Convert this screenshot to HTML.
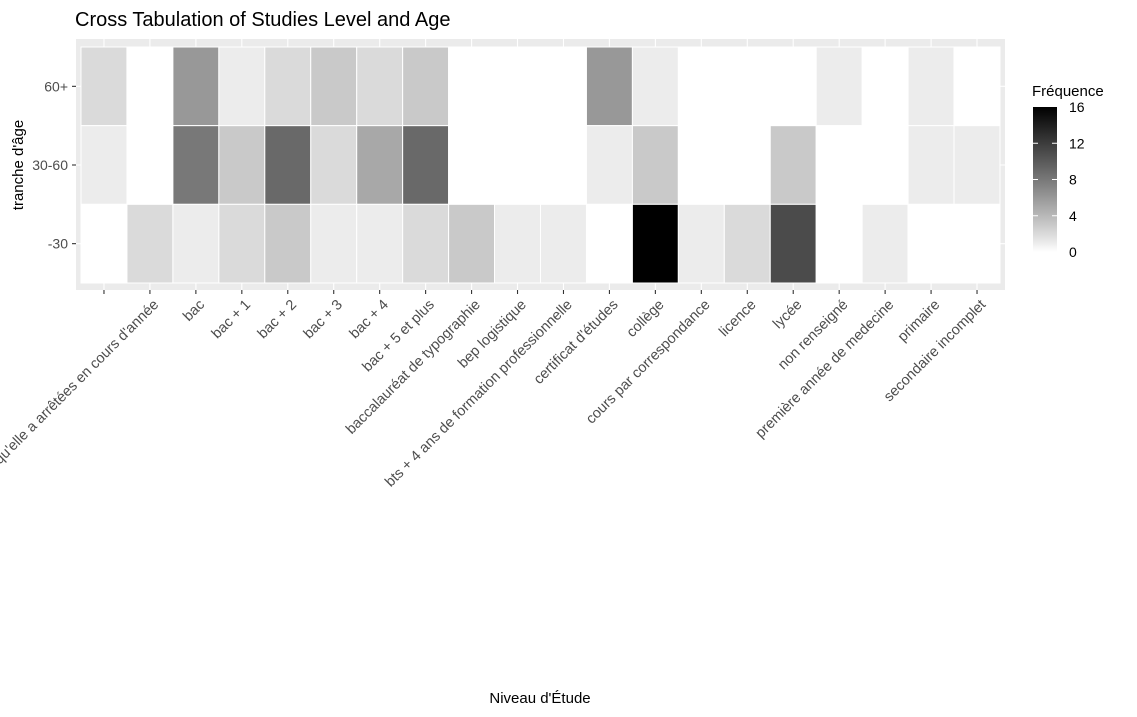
<!DOCTYPE html>
<html><head><meta charset="utf-8">
<style>
body{margin:0;background:#fff;}
svg{display:block;font-family:"Liberation Sans",Arial,sans-serif;}
</style></head>
<body>
<svg id="chart" width="1137" height="717" viewBox="0 0 1137 717">
<text x="75" y="26" font-size="20" fill="#000">Cross Tabulation of Studies Level and Age</text>
<rect x="76" y="39" width="929" height="251" fill="#ebebeb"/>
<g id="grid"></g>
<g id="tiles"></g>
<g id="xaxis"></g>
<g id="yaxis"></g>
<text x="540" y="703" font-size="15" text-anchor="middle" fill="#000">Niveau d'Étude</text>
<text transform="translate(23,165) rotate(-90)" font-size="15" text-anchor="middle" fill="#000">tranche d'âge</text>
<g id="legend"></g>
</svg>
<script>
const categories = ["", "études qu'elle a arrêtées en cours d'année", "bac", "bac + 1", "bac + 2", "bac + 3", "bac + 4", "bac + 5 et plus", "baccalauréat de typographie", "bep logistique", "bts + 4 ans de formation professionnelle", "certificat d'études", "collège", "cours par correspondance", "licence", "lycée", "non renseigné", "première année de medecine", "primaire", "secondaire incomplet"];
const ageGroups = ["60+", "30-60", "-30"];
const values60 = [2,0,6,1,2,3,2,3,0,0,0,6,1,0,0,0,1,0,1,0];
const values3060 = [1,0,8,3,9,2,5,9,0,0,0,1,3,0,0,3,0,0,1,1];
const values30 = [0,2,1,2,3,1,1,2,3,1,1,0,16,1,2,11,0,1,0,0];
const legendTicks = [0,4,8,12,16];

const NS="http://www.w3.org/2000/svg";
const svg=document.getElementById('chart');
function mk(tag,attrs,parent){const e=document.createElementNS(NS,tag);for(const k in attrs)e.setAttribute(k,attrs[k]);parent.appendChild(e);return e;}
const px0=81, pw=919, py0=47, ph=236;
const cw=pw/categories.length, rh=ph/ageGroups.length;
function xScale(i){return px0+i*cw;}
function yScale(j){return py0+j*rh;}
const stops=[[0,255],[1,236],[2,218],[3,201],[4,184],[5,168],[6,152],[8,120],[9,105],[11,75],[16,0]];
function color(v){
  for(let i=1;i<stops.length;i++){
    if(v<=stops[i][0]){const a=stops[i-1],b=stops[i];const t=(v-a[0])/(b[0]-a[0]);const g=Math.round(a[1]+t*(b[1]-a[1]));return `rgb(${g},${g},${g})`;}
  }
  return 'rgb(0,0,0)';
}
const grid=document.getElementById('grid');
categories.forEach((c,i)=>{
  const l=mk('line',{x1:xScale(i)+cw/2,x2:xScale(i)+cw/2,y1:39,y2:290,stroke:'#fff','stroke-width':1.1},grid);
  
  
});
ageGroups.forEach((a,j)=>{
  const l=mk('line',{x1:76,x2:1005,y1:yScale(j)+rh/2,y2:yScale(j)+rh/2,stroke:'#fff','stroke-width':1.1},grid);
  
  
});
const series=[values60,values3060,values30];
const tiles=document.getElementById('tiles');
series.forEach((vals,j)=>{
  vals.forEach((v,i)=>{
    const r=mk('rect',{x:xScale(i),y:yScale(j),width:cw,height:rh,fill:color(v),stroke:'#fff','stroke-width':1},tiles);
    
    
  });
});
const xa=document.getElementById('xaxis');
categories.forEach((c,i)=>{
  const x=xScale(i)+cw/2;
  const t=mk('line',{x1:x,x2:x,y1:290,y2:294,stroke:'#333','stroke-width':1.1},xa);
  
  
  const tx=mk('text',{transform:`translate(${x+2},${298}) rotate(-45)`,'text-anchor':'end','font-size':14.5,fill:'#4d4d4d',dy:'0.72em'},xa);
  tx.textContent=c;
  
  
});
const ya=document.getElementById('yaxis');
ageGroups.forEach((a,j)=>{
  const y=yScale(j)+rh/2;
  const t=mk('line',{x1:72,x2:76,y1:y,y2:y,stroke:'#333','stroke-width':1.1},ya);
  
  
  const tx=mk('text',{x:68,y:y+5,'text-anchor':'end','font-size':14,fill:'#4d4d4d'},ya);
  tx.textContent=a;
  
  
});
// legend
const lg=document.getElementById('legend');
const lt=mk('text',{x:1032,y:96,'font-size':15,fill:'#000'},lg);
lt.textContent='Fréquence';


const defs=mk('defs',{},svg);
const grad=mk('linearGradient',{id:'lgGrad',x1:0,y1:1,x2:0,y2:0},defs);
for(let v=0;v<=16;v++){mk('stop',{offset:v/16,'stop-color':color(v)},grad);}
const ly0=107, ly1=252, lx=1033, lw=24;
const bar=mk('rect',{x:lx,y:ly0,width:lw,height:ly1-ly0,fill:'url(#lgGrad)'},lg);


function ly(v){return ly1-(v/16)*(ly1-ly0);}
legendTicks.forEach(v=>{
  const y=ly(v);
  if(v>0&&v<16){
    const a=mk('line',{x1:lx,x2:lx+5,y1:y,y2:y,stroke:'#fff','stroke-width':1},lg);
    
    
    const b=mk('line',{x1:lx+lw-5,x2:lx+lw,y1:y,y2:y,stroke:'#fff','stroke-width':1},lg);
    
    
  }
  const t=mk('text',{x:lx+lw+12,y:y+5,'font-size':14,fill:'#000'},lg);
  t.textContent=v;
  
  
});
</script>
</body></html>
